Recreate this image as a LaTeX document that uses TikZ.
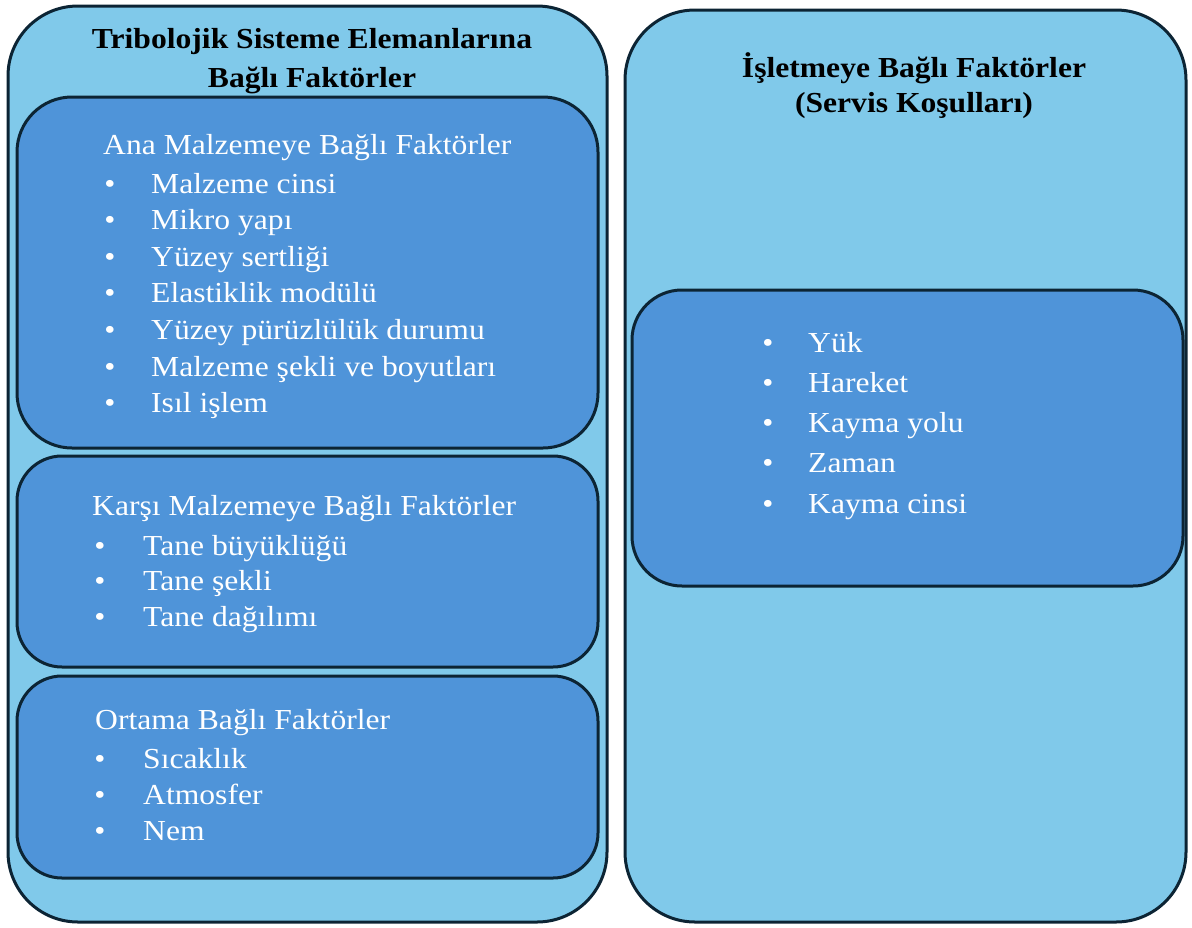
\documentclass[tikz,border=0pt]{standalone}
\usepackage{fontspec}
\setmainfont{Liberation Serif}[FakeStretch=1.09]
\definecolor{paleblue}{RGB}{128,201,234}
\definecolor{midblue}{RGB}{79,148,217}
\definecolor{edge}{RGB}{12,36,52}
\tikzset{
  outerbox/.style={draw=edge, line width=3pt, fill=paleblue, rounded corners=70pt, inner sep=0pt},
  innerbox/.style={draw=edge, line width=3pt, fill=midblue, inner sep=0pt},
  ttl/.style={anchor=base, inner sep=0pt, font=\fontsize{29}{36}\selectfont\bfseries},
  head/.style={anchor=base west, inner sep=0pt, text=white, font=\fontsize{29}{36}\selectfont},
  itm/.style={anchor=base west, inner sep=0pt, text=white, font=\fontsize{29}{36}\selectfont},
  bul/.style={anchor=base, inner sep=0pt, text=white, font=\fontsize{29}{36}\selectfont},
}
\begin{document}
\begin{tikzpicture}[x=1pt, y=-1pt]
\useasboundingbox (0,0) rectangle (1192,927);

% two outer panels
\node[outerbox, minimum width=599pt, minimum height=916pt] (left) at (307.5,464) {};
\node[outerbox, minimum width=561pt, minimum height=912pt] (right) at (905.5,466) {};

% panel titles
\node[ttl] (lt1) at (312,48) {Tribolojik Sisteme Elemanlarına};
\node[ttl] (lt2) at (312,87) {Bağlı Faktörler};
\node[ttl] (rt1) at (914,77) {İşletmeye Bağlı Faktörler};
\node[ttl] (rt2) at (914,112) {(Servis Koşulları)};

% inner boxes of the left panel
\node[innerbox, rounded corners=55pt, minimum width=581pt, minimum height=351pt] (b1) at (307.5,272.5) {};
\node[innerbox, rounded corners=45pt, minimum width=581pt, minimum height=211pt] (b2) at (307.5,561.5) {};
\node[innerbox, rounded corners=45pt, minimum width=581pt, minimum height=202pt] (b3) at (307.5,777) {};
% inner box of the right panel
\node[innerbox, rounded corners=50pt, minimum width=551pt, minimum height=296pt] (b4) at (907.5,438) {};

% base material factors
\node[head] (h1) at (103,154) {Ana Malzemeye Bağlı Faktörler};
\foreach \t [count=\i] in {Malzeme cinsi, Mikro yapı, Yüzey sertliği, Elastiklik modülü,
    Yüzey pürüzlülük durumu, Malzeme şekli ve boyutları, Isıl işlem} {
  \pgfmathsetmacro{\yy}{193+36.6*(\i-1)}
  \node[bul] (p1-\i) at (110,\yy) {•};
  \node[itm] (a1-\i) at (151,\yy) {\t};
}

% counter material factors
\node[head] (h2) at (92,515) {Karşı Malzemeye Bağlı Faktörler};
\foreach \t [count=\i] in {Tane büyüklüğü, Tane şekli, Tane dağılımı} {
  \pgfmathsetmacro{\yy}{555+35.5*(\i-1)}
  \node[bul] (p2-\i) at (100,\yy) {•};
  \node[itm] (a2-\i) at (143,\yy) {\t};
}

% environment factors
\node[head] (h3) at (95,729) {Ortama Bağlı Faktörler};
\foreach \t [count=\i] in {Sıcaklık, Atmosfer, Nem} {
  \pgfmathsetmacro{\yy}{768+36*(\i-1)}
  \node[bul] (p3-\i) at (100,\yy) {•};
  \node[itm] (a3-\i) at (143,\yy) {\t};
}

% operating conditions
\foreach \t [count=\i] in {Yük, Hareket, Kayma yolu, Zaman, Kayma cinsi} {
  \pgfmathsetmacro{\yy}{352+40.3*(\i-1)}
  \node[bul] (p4-\i) at (768,\yy) {•};
  \node[itm] (a4-\i) at (808,\yy) {\t};
}
\end{tikzpicture}
\end{document}
